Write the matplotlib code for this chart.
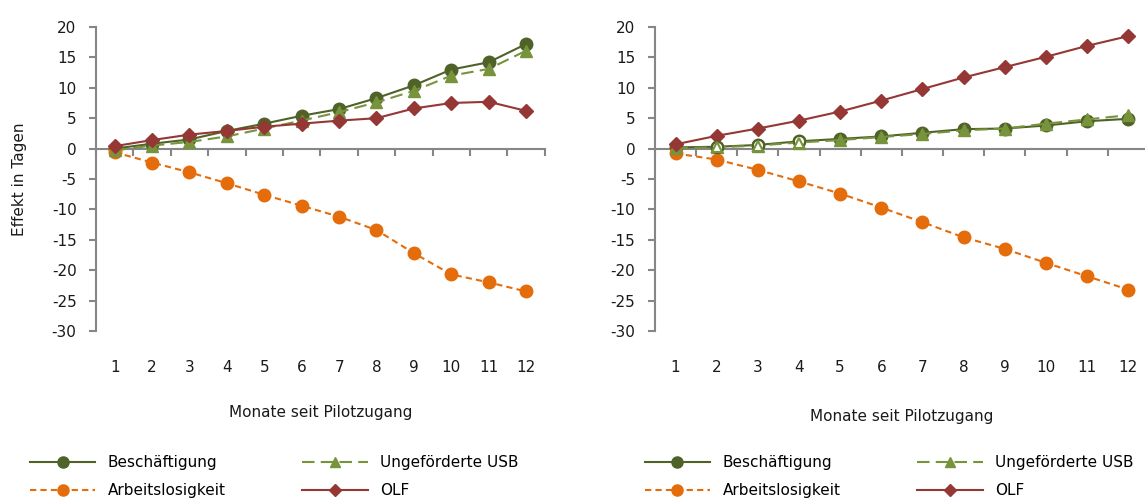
import matplotlib
matplotlib.use("Agg")
import matplotlib.pyplot as plt
from matplotlib.lines import Line2D

plt.rcParams['font.family'] = 'DejaVu Sans'

# Daten
months = list(range(1, 13))

left_besch = [0.0, 0.8, 1.5, 2.9, 4.1, 5.4, 6.5, 8.3, 10.4, 13.0, 14.2, 17.2]
left_usb = [-0.3, 0.5, 1.1, 2.0, 3.3, 4.6, 6.0, 7.6, 9.5, 12.0, 13.1, 16.1]
left_arbeit = [-0.6, -2.3, -3.9, -5.7, -7.6, -9.4, -11.2, -13.4, -17.2, -20.7, -22.0, -23.5]
left_olf = [0.4, 1.4, 2.3, 2.9, 3.6, 4.1, 4.6, 5.0, 6.6, 7.5, 7.7, 6.2]

right_besch = [0.2, 0.3, 0.6, 1.2, 1.6, 2.0, 2.6, 3.2, 3.3, 3.8, 4.5, 4.9]
right_usb = [0.1, 0.2, 0.5, 1.0, 1.4, 1.9, 2.4, 3.0, 3.3, 4.1, 4.8, 5.5]
right_arbeit = [-0.8, -1.8, -3.5, -5.4, -7.4, -9.7, -12.1, -14.6, -16.5, -18.8, -21.0, -23.2]
right_olf = [0.7, 2.1, 3.3, 4.6, 6.1, 7.9, 9.8, 11.7, 13.4, 15.1, 16.9, 18.5]

# Monate mit nicht ausgefüllten Markern (rechte Grafik)
right_hollow = [2, 3, 4]

yticks = [20, 15, 10, 5, 0, -5, -10, -15, -20, -25, -30]

C_BESCH = '#4F6228'
C_USB = '#77933C'
C_ARB = '#E46C0A'
C_OLF = '#953735'
C_AXIS = '#868686'
C_TEXT = '#1a1a1a'
FS = 11


def draw_panel(ax, besch, usb, arbeit, olf, hollow=None):
    ax.plot(months, besch, color=C_BESCH, lw=1.5, marker='o', ms=9, zorder=3)
    ax.plot(months, usb, color=C_USB, lw=1.5, ls=(0, (6, 3)), marker='^', ms=8, zorder=4)
    ax.plot(months, arbeit, color=C_ARB, lw=1.5, ls=(0, (3, 2)), marker='o', ms=9, zorder=3)
    ax.plot(months, olf, color=C_OLF, lw=1.5, marker='D', ms=7, zorder=5)
    if hollow:
        idx = [months.index(m) for m in hollow]
        ax.plot([months[i] for i in idx], [besch[i] for i in idx], ls='none', marker='o', ms=8,
                mfc='white', mec=C_BESCH, mew=1.5, zorder=6)
        ax.plot([months[i] for i in idx], [usb[i] for i in idx], ls='none', marker='^', ms=7,
                mfc='white', mec=C_USB, mew=1.5, zorder=7)

    ax.set_xlim(0.5, 12.5)
    ax.set_ylim(-30, 20)
    ax.set_yticks(yticks)
    ax.set_yticklabels([str(v) for v in yticks])
    for s in ['top', 'right']:
        ax.spines[s].set_visible(False)
    ax.spines['bottom'].set_position(('data', 0))
    for s in ['left', 'bottom']:
        ax.spines[s].set_color(C_AXIS)
        ax.spines[s].set_linewidth(1.5)
    ax.tick_params(axis='y', direction='out', length=5, width=1.5, color=C_AXIS,
                   labelsize=FS, labelcolor=C_TEXT, pad=9)
    ax.set_xticks(months)
    ax.set_xticklabels([str(m) for m in months])
    ax.set_xticks([m + 0.5 for m in range(0, 13)], minor=True)
    ax.tick_params(axis='x', which='major', length=0, pad=152, labelsize=FS, labelcolor=C_TEXT)
    ax.tick_params(axis='x', which='minor', direction='out', length=5, width=1.5, color=C_AXIS)
    ax.set_xlabel('Monate seit Pilotzugang', fontsize=FS, color=C_TEXT)


def add_legend(ax, fig, x, y):
    handles = [
        Line2D([], [], color=C_BESCH, lw=1.5, marker='o', ms=8),
        Line2D([], [], color=C_ARB, lw=1.5, ls=(0, (3, 2)), marker='o', ms=8),
        Line2D([], [], color=C_USB, lw=1.5, ls=(0, (6, 3)), marker='^', ms=7),
        Line2D([], [], color=C_OLF, lw=1.5, marker='D', ms=6),
    ]
    labels = ['Beschäftigung', 'Arbeitslosigkeit', 'Ungeförderte USB', 'OLF']
    ax.legend(handles, labels, ncol=2, loc='upper left', bbox_to_anchor=(x, y),
              bbox_transform=fig.transFigure, frameon=False, fontsize=FS,
              handlelength=4.3, handletextpad=0.8, columnspacing=5.0,
              labelspacing=0.85, borderpad=0, borderaxespad=0)


fig = plt.figure(figsize=(11.45, 4.99), dpi=100)
ax1 = fig.add_axes([0.0838, 0.3367, 0.392, 0.6092])
ax2 = fig.add_axes([0.572, 0.3367, 0.4314, 0.6092])

draw_panel(ax1, left_besch, left_usb, left_arbeit, left_olf)
draw_panel(ax2, right_besch, right_usb, right_arbeit, right_olf, hollow=right_hollow)

ax1.xaxis.set_label_coords(0.5, -0.243)
ax2.xaxis.set_label_coords(0.5, -0.257)
ax1.set_ylabel('Effekt in Tagen', fontsize=FS, color=C_TEXT)
ax1.yaxis.set_label_coords(-0.153, 0.5)

add_legend(ax1, fig, 0.026, 0.088)
add_legend(ax2, fig, 0.563, 0.088)

fig.savefig('out.png', dpi=100)
